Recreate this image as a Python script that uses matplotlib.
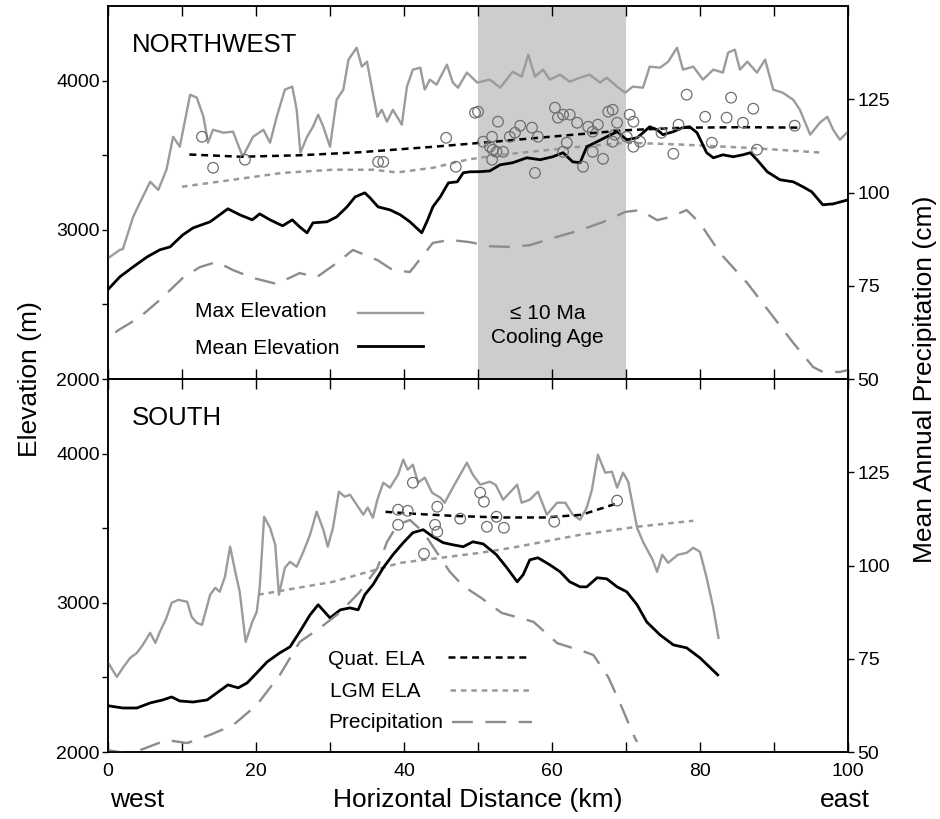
import numpy as np
import matplotlib
matplotlib.use("Agg")
import matplotlib.pyplot as plt
from matplotlib.ticker import FixedLocator

plt.rcParams['font.family'] = ['Liberation Sans', 'DejaVu Sans']
plt.rcParams['lines.scale_dashes'] = False

# ---- data: (distance km, value) ----
nw_max = [(0, 2810), (1.6, 2866), (2.0, 2870), (3.4, 3087), (4.3, 3181), (5.7, 3322), (6.8, 3268),
          (7.9, 3403), (8.8, 3624), (9.7, 3557), (11.1, 3906), (12.0, 3886), (12.9, 3758), (13.5, 3584),
          (14.2, 3671), (15.6, 3651), (16.9, 3658), (18.2, 3490), (19.6, 3624), (21.0, 3671), (21.9, 3584),
          (22.8, 3758), (23.9, 3940), (24.9, 3960), (25.5, 3805), (26.0, 3517), (26.9, 3624), (27.7, 3691),
          (28.4, 3772), (29.1, 3691), (30.0, 3557), (30.9, 3872), (31.8, 3940), (32.5, 4141), (33.6, 4221),
          (34.3, 4094), (35.0, 4127), (35.7, 3940), (36.4, 3758), (37.0, 3805), (37.7, 3725), (38.5, 3805),
          (39.7, 3705), (40.4, 3960), (41.2, 4074), (42.2, 4087), (42.8, 3940), (43.5, 4007), (44.4, 3973),
          (45.8, 4107), (46.6, 3987), (47.3, 3953), (48.5, 4054), (49.9, 3987), (51.6, 4007), (53.0, 3953),
          (54.7, 4060), (55.9, 4027), (56.8, 4174), (57.7, 4027), (58.8, 4074), (59.7, 4007), (61.1, 4040),
          (62.4, 3993), (63.8, 4020), (65.1, 4040), (66.5, 3987), (67.4, 4020), (68.8, 3960), (69.9, 3919),
          (70.9, 3960), (72.3, 3953), (73.2, 4094), (74.6, 4087), (75.7, 4127), (76.9, 4221), (77.7, 4074),
          (79.1, 4094), (80.4, 4007), (81.8, 4074), (83.1, 4054), (83.8, 4188), (84.7, 4208), (85.4, 4074),
          (86.4, 4127), (87.7, 4054), (88.8, 4141), (89.9, 3940), (91.2, 3919), (92.6, 3872), (93.5, 3805),
          (94.9, 3638), (96.2, 3718), (97.2, 3758), (98.0, 3671), (98.9, 3604), (100, 3658)]

nw_mean = [(0, 2600), (1.6, 2685), (3.4, 2752), (5.3, 2819), (7, 2866), (8.4, 2886), (10.1, 2966),
           (11.5, 3013), (13.8, 3054), (15.1, 3101), (16.2, 3141), (17.8, 3101), (19.5, 3067), (20.5, 3107),
           (21.9, 3067), (23.6, 3027), (24.9, 3067), (25.9, 3020), (26.9, 2980), (27.7, 3047), (29.6, 3054),
           (30.9, 3087), (32.3, 3154), (33.4, 3221), (34.7, 3248), (35.4, 3215), (36.5, 3154), (38.1, 3134),
           (39.5, 3101), (40.8, 3054), (42.4, 2980), (43.2, 3067), (43.9, 3154), (44.9, 3221), (46, 3315),
           (47.2, 3322), (48, 3382), (48.9, 3389), (50.3, 3390), (51.6, 3395), (53, 3436), (54.7, 3450),
           (56.6, 3483), (58.4, 3470), (60.1, 3490), (61.5, 3517), (62.8, 3456), (63.8, 3450), (64.7, 3557),
           (66.1, 3591), (67.4, 3624), (68.8, 3658), (70.1, 3604), (71.5, 3617), (72.3, 3651), (73.2, 3691),
           (74.2, 3671), (75, 3638), (76.4, 3658), (77.7, 3685), (78.6, 3691), (79.6, 3651), (80.9, 3517),
           (81.8, 3483), (83.1, 3503), (84.5, 3490), (85.8, 3503), (86.8, 3517), (87.7, 3470), (89.1, 3389),
           (90.8, 3336), (92.6, 3322), (93.9, 3289), (95.1, 3255), (96.6, 3168), (98, 3174), (100, 3201)]

nw_precip = [(1.0, 62.5), (1.4, 63.1), (4.3, 66.6), (7, 71.2), (10.1, 77.1), (12.4, 80), (14.7, 81.4),
             (16.9, 79.2), (19.6, 77.1), (22.8, 75.5), (25.9, 78.4), (28.2, 77.3), (30.9, 81.1), (33.1, 84.6),
             (36.4, 81.9), (38.5, 79.2), (40.8, 78.7), (42.4, 82.7), (43.9, 86.5), (46.2, 87.3), (48.9, 86.7),
             (51.6, 85.6), (54.7, 85.4), (57, 85.9), (60.1, 87.8), (63.8, 89.9), (66.9, 92.1), (69.9, 94.8),
             (71.9, 95.3), (74.2, 92.6), (75.9, 93.4), (78.2, 95.3), (80, 91.8), (82.7, 83.8), (86.4, 75.7),
             (89.5, 67.7), (92.6, 59.7), (95.3, 53.2), (96.6, 51.9), (98.9, 51.9), (100, 52.4)]

nw_quat_ela = [(11, 3505), (18, 3490), (26, 3500), (34, 3520), (44, 3557), (52, 3590), (60, 3625),
               (70, 3668), (78, 3685), (86, 3688), (93.5, 3685)]
nw_lgm_ela = [(10, 3289), (16.9, 3336), (23.6, 3382), (30.4, 3403), (35.8, 3403), (39.1, 3385),
              (43.9, 3416), (48.5, 3470), (52.5, 3500), (57, 3523), (63.8, 3557), (70.1, 3584),
              (77.3, 3572), (86.4, 3550), (96.6, 3517)]

nw_ages = [(12.7, 3624), (14.2, 3416), (18.5, 3470), (36.5, 3456), (37.2, 3456), (45.7, 3617), (47, 3423),
           (49.6, 3785), (50, 3792), (50.7, 3591), (51.9, 3624), (52, 3537), (51.9, 3470), (52.7, 3725),
           (51.6, 3557), (52.5, 3523), (53.4, 3523), (54.3, 3624), (55, 3651), (55.7, 3698), (57.3, 3685),
           (58.1, 3624), (57.7, 3382), (60.4, 3819), (60.8, 3752), (61.5, 3772), (62.4, 3772), (62, 3584),
           (63.4, 3718), (61.5, 3523), (64.9, 3691), (65.5, 3658), (66.2, 3705), (64.2, 3423), (65.5, 3523),
           (66.9, 3476), (67.6, 3792), (68.2, 3805), (68.8, 3718), (68.5, 3638), (68.2, 3591), (70.5, 3772),
           (71, 3725), (70.1, 3624), (71, 3557), (71.9, 3591), (74.8, 3651), (78.2, 3906), (76.4, 3510),
           (77.1, 3705), (80.7, 3758), (81.6, 3584), (83.6, 3752), (84.2, 3886), (85.8, 3718), (87.2, 3812),
           (87.7, 3537), (92.8, 3698)]

s_max = [(0, 2600), (1.2, 2503), (2, 2564), (3, 2631), (3.9, 2664), (4.7, 2718), (5.7, 2799), (6.4, 2731),
         (7, 2805), (7.9, 2899), (8.6, 3000), (9.5, 3020), (10.7, 3007), (11.3, 2906), (12, 2866),
         (12.7, 2852), (13.8, 3054), (14.5, 3101), (15.1, 3074), (15.8, 3174), (16.5, 3376), (17.2, 3208),
         (17.8, 3074), (18.6, 2738), (19.5, 2872), (20.1, 2940), (20.5, 3101), (21.1, 3577), (21.9, 3503),
         (22.6, 3389), (23.1, 3054), (23.9, 3235), (24.6, 3275), (25.5, 3242), (26.4, 3342), (27.3, 3456),
         (28.2, 3611), (29.1, 3490), (29.7, 3376), (30.4, 3503), (31.2, 3745), (32, 3711), (32.7, 3725),
         (33.6, 3658), (34.5, 3591), (35.1, 3638), (35.8, 3570), (36.4, 3691), (37.2, 3805), (38.1, 3772),
         (39.2, 3859), (39.9, 3960), (40.5, 3892), (41.2, 3926), (41.9, 3805), (42.8, 3839), (43.8, 3738),
         (44.9, 3705), (45.5, 3671), (46.6, 3772), (48.5, 3939), (49.3, 3859), (50.3, 3792), (51.6, 3812),
         (52.4, 3790), (53.4, 3691), (55.3, 3792), (55.9, 3671), (57, 3691), (58.1, 3745), (59.3, 3591),
         (60.7, 3671), (61.8, 3671), (62.8, 3591), (63.8, 3557), (64.7, 3638), (65.4, 3758), (66.2, 3993),
         (67.2, 3872), (68.1, 3879), (68.8, 3772), (69.6, 3872), (70.3, 3812), (71.5, 3503), (72.3, 3409),
         (73.6, 3288), (74.2, 3208), (74.9, 3322), (75.7, 3268), (77, 3322), (78.2, 3335), (79.1, 3369),
         (80, 3342), (80.9, 3168), (81.8, 2966), (82.5, 2765)]

s_mean = [(0, 2310), (2, 2295), (3.9, 2295), (5.7, 2329), (7.4, 2349), (8.6, 2369), (9.7, 2342),
          (11.5, 2335), (13.4, 2349), (14.7, 2396), (16.2, 2450), (17.6, 2430), (18.8, 2463), (20.1, 2530),
          (21.5, 2604), (23.2, 2664), (24.6, 2705), (25.9, 2805), (27.3, 2919), (28.4, 2987), (30, 2899),
          (31.4, 2953), (32.7, 2966), (33.8, 2953), (34.7, 3054), (35.8, 3121), (37.2, 3235), (38.5, 3322),
          (39.9, 3403), (41.2, 3470), (42.6, 3490), (43.9, 3443), (45.3, 3403), (46.6, 3389), (48, 3376),
          (49.3, 3409), (50.7, 3395), (52.5, 3322), (53.9, 3235), (55.3, 3141), (56.1, 3188), (57, 3288),
          (58.1, 3302), (59.7, 3255), (61.1, 3208), (62.4, 3141), (63.8, 3107), (64.7, 3107), (66.1, 3168),
          (67.4, 3161), (68.8, 3107), (70.1, 3074), (71.5, 2987), (72.8, 2872), (74.6, 2785), (76.4, 2718),
          (78.2, 2698), (80, 2631), (82.4, 2517)]

s_precip = [(0, 50.5), (3, 49.5), (7.9, 53.2), (10.7, 52.4), (13.8, 54.6), (16.9, 57.2), (20.1, 62.6),
            (23.2, 70.6), (25.9, 79.5), (28.6, 83.2), (31.4, 87.5), (34, 92.9), (36.4, 99.3), (37.7, 106.3),
            (39.1, 110.9), (40.8, 112.2), (42.6, 109), (44.4, 103.6), (46.2, 98.3), (48, 94.5), (50.3, 91.5),
            (53.2, 87.3), (57.5, 84.9), (60.7, 79.2), (64.5, 76.8), (65.6, 76), (67.6, 70.1), (69.2, 63.1),
            (71, 54.6), (71.5, 52.7)]

s_quat_ela = [(37.5, 3610), (42, 3595), (47, 3582), (53, 3572), (59, 3572), (64, 3590), (69, 3670)]
s_lgm_ela = [(20.3, 3054), (30.4, 3141), (39.5, 3268), (50.3, 3335), (54.7, 3370), (63.8, 3456),
             (71.5, 3510), (79.1, 3550)]

s_ages = [(39.2, 3624), (40.5, 3617), (41.2, 3805), (39.2, 3523), (42.7, 3329), (44.2, 3523), (44.5, 3476),
          (44.5, 3644), (47.6, 3564), (50.3, 3738), (50.8, 3678), (51.2, 3510), (52.5, 3577), (53.5, 3503),
          (60.3, 3544), (68.8, 3685)]

young_zone = (50, 70)        # <= 10 Ma cooling ages, northwest profile
x_ticks = [0, 20, 40, 60, 80, 100]
elev_ticks = [2000, 3000, 4000]
precip_ticks = [50, 75, 100, 125]

GREY = '#9b9b9b'
PGREY = '#8c8c8c'
fs_tick = 14
fs_lab = 19

styles = {
    'Max Elevation': dict(color=GREY, lw=1.7),
    'Mean Elevation': dict(color='black', lw=2.0),
    'Quat. ELA': dict(color='black', lw=1.8, dashes=(5, 3.5)),
    'LGM ELA': dict(color='#999999', lw=1.8, dashes=(4, 3.5)),
    'Precipitation': dict(color=PGREY, lw=1.7, dashes=(15, 9)),
}


def xy(pairs):
    a = np.array(pairs, dtype=float)
    return a[:, 0], a[:, 1]


def panel(ax, maxe, meane, precip, quat, lgm, ages, name):
    ax2 = ax.twinx()
    ax.plot(*xy(maxe), zorder=3, **styles['Max Elevation'])
    ax.plot(*xy(meane), zorder=4, **styles['Mean Elevation'])
    ax.plot(*xy(quat), zorder=5, **styles['Quat. ELA'])
    ax.plot(*xy(lgm), zorder=3, **styles['LGM ELA'])
    ax.scatter(*xy(ages), s=58, facecolors='none', edgecolors='#6e6e6e', linewidths=0.9, zorder=6)
    ax2.plot(*xy(precip), **styles['Precipitation'])

    ax.set_xlim(0, 100)
    ax.set_ylim(2000, 4500)
    ax2.set_ylim(50, 150)

    ax.xaxis.set_major_locator(FixedLocator(x_ticks))
    ax.xaxis.set_minor_locator(FixedLocator([10, 30, 50, 70, 90]))
    ax.tick_params(axis='x', which='both', direction='in', top=True, bottom=True,
                   length=7, width=1, labelsize=fs_tick, pad=8)
    ax.set_yticks(elev_ticks)
    ax.yaxis.set_minor_locator(FixedLocator([2500, 3500]))
    ax.tick_params(axis='y', which='both', direction='out', length=4, width=1,
                   labelsize=fs_tick, pad=2)
    ax2.set_yticks(precip_ticks)
    ax2.tick_params(axis='y', direction='out', length=4, width=1, labelsize=fs_tick, pad=3)
    for a in (ax, ax2):
        for s in a.spines.values():
            s.set_linewidth(1.1)
    ax.text(0.032, 0.895, name, transform=ax.transAxes, fontsize=18.5, va='center', ha='left')
    return ax2


def key(ax, label, tx, ty, x0, x1, ly):
    # legend entry: left-aligned label, sample line to its right (axes fraction)
    ax.text(tx, ty, label, transform=ax.transAxes, fontsize=15, va='center', ha='left', zorder=8)
    ax.plot([x0, x1], [ly, ly], transform=ax.transAxes, clip_on=False, zorder=8, **styles[label])


fig = plt.figure(figsize=(9.4, 8.19), dpi=100)
ax_top = fig.add_axes([0.1149, 0.5372, 0.7872, 0.4554])
ax_bot = fig.add_axes([0.1149, 0.0818, 0.7872, 0.4554])

ax_top.axvspan(*young_zone, color='#cdcdd0', lw=0, zorder=0)
ax_top.text(sum(young_zone) / 2 - 0.6, 2360, '\u2264 10 Ma\nCooling Age', ha='center', va='center',
            fontsize=15, linespacing=1.3, zorder=7)

top2 = panel(ax_top, nw_max, nw_mean, nw_precip, nw_quat_ela, nw_lgm_ela, nw_ages, 'NORTHWEST')
bot2 = panel(ax_bot, s_max, s_mean, s_precip, s_quat_ela, s_lgm_ela, s_ages, 'SOUTH')
ax_top.tick_params(axis='x', labelbottom=False)

key(top2, 'Max Elevation', 0.1176, 0.180, 0.338, 0.426, 0.177)
key(top2, 'Mean Elevation', 0.1176, 0.083, 0.338, 0.426, 0.0885)
key(bot2, 'Quat. ELA', 0.297, 0.247, 0.459, 0.568, 0.255)
key(bot2, 'LGM ELA', 0.300, 0.161, 0.462, 0.573, 0.166)
key(bot2, 'Precipitation', 0.297, 0.080, 0.465, 0.573, 0.080)

fig.text(0.032, 0.537, 'Elevation (m)', rotation=90, ha='center', va='center', fontsize=fs_lab)
fig.text(0.984, 0.537, 'Mean Annual Precipitation (cm)', rotation=90, ha='center', va='center',
         fontsize=fs_lab)
fig.text(0.5085, 0.023, 'Horizontal Distance (km)', ha='center', va='center', fontsize=fs_lab)
fig.text(0.117, 0.023, 'west', ha='left', va='center', fontsize=fs_lab)
fig.text(0.899, 0.023, 'east', ha='center', va='center', fontsize=fs_lab)

fig.savefig('out.png', dpi=100)
